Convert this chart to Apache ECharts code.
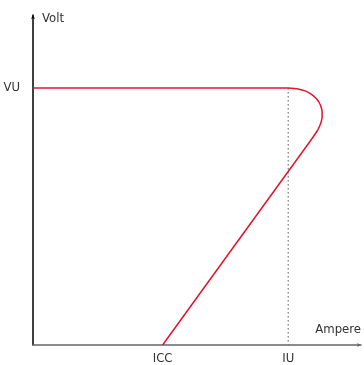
<!DOCTYPE html>
<html><head><meta charset="utf-8">
<script src="https://cdn.jsdelivr.net/npm/echarts@6/dist/echarts.min.js"></script>
<style>html,body{margin:0;padding:0;background:#fff}#c{width:364px;height:365px}</style>
</head><body><div id="c"></div>
<script>
// Curve (current, voltage) in arbitrary units
const curveX = [0, 200, 256, 262, 267, 272, 277, 281, 284.5, 287, 289, 290, 290, 289, 287.3, 285, 282, 278.5, 274.5, 130];
const curveY = [257, 257, 257, 256.6, 255.8, 254.4, 252.2, 249.4, 246, 242.5, 238, 233, 228, 223, 218.5, 214, 209.5, 204.5, 199, 0];
const xTickValues = [130, 256];
const xTickLabels = ['ICC', 'IU'];
const yTickValues = [257];
const yTickLabels = ['VU'];
const IU = 256, VU = 257;

const font = '"DejaVu Sans Condensed", "Liberation Sans Narrow", "Roboto Condensed", sans-serif';
const chart = echarts.init(document.getElementById('c'));
chart.setOption({
  animation: false,
  grid: {left: 33, right: 2, top: 15, bottom: 20},
  xAxis: {
    type: 'value', min: 0, max: 329,
    name: 'Ampere', nameLocation: 'end', nameGap: 0,
    nameTextStyle: {align: 'right', verticalAlign: 'bottom', padding: [0, 0, 9, 0], fontFamily: font, fontSize: 13, color: '#333'},
    splitLine: {show: false},
    axisTick: {show: false},
    axisLine: {lineStyle: {color: '#666', width: 1.5}, symbol: ['none', 'arrow'], symbolSize: [3, 4]},
    axisLabel: {customValues: xTickValues, formatter: v => xTickLabels[xTickValues.indexOf(v)] || '', fontFamily: font, fontSize: 13, color: '#333', margin: 7}
  },
  yAxis: {
    type: 'value', min: 0, max: 330,
    name: 'Volt', nameLocation: 'end', nameGap: 3,
    nameTextStyle: {align: 'left', verticalAlign: 'top', padding: [0, 0, 0, 9], fontFamily: font, fontSize: 13, color: '#333'},
    splitLine: {show: false},
    axisTick: {show: false},
    axisLine: {show: true, lineStyle: {color: '#000', width: 1.5}, symbol: ['none', 'arrow'], symbolSize: [3, 4]},
    axisLabel: {customValues: yTickValues, formatter: v => yTickLabels[yTickValues.indexOf(v)] || '', fontFamily: font, fontSize: 13, color: '#333', margin: 13}
  },
  series: [
    {type: 'line', data: [[IU, VU], [IU, 0]], symbol: 'none', lineStyle: {color: '#777', width: 1.2, type: [1.5, 2.5]}, z: 1},
    {type: 'line', data: curveX.map((x, i) => [x, curveY[i]]), symbol: 'none', smooth: 0.2,
     lineStyle: {color: '#e3142c', width: 1.5, join: 'round'}, z: 2}
  ]
});
</script></body></html>
